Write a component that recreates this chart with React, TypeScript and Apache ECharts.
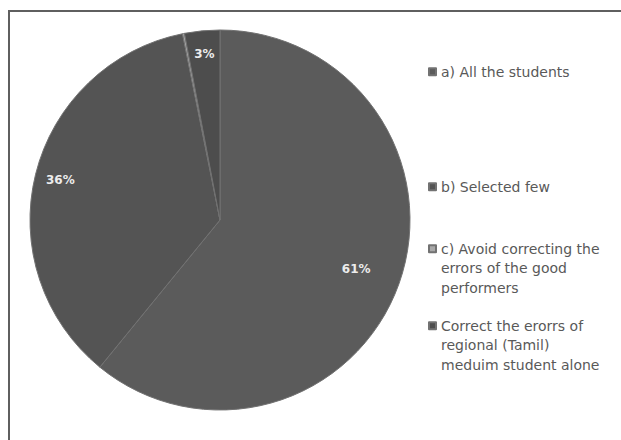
import React, { useEffect, useRef } from 'react';
import * as echarts from 'echarts';

const categories = [
  'a) All the students',
  'b) Selected few',
  'c) Avoid correcting the errors of the good performers',
  'Correct the erorrs of regional (Tamil) meduim student alone',
];
const values = [61, 36, 0, 3];
const legendLines = [
  ['a) All the students'],
  ['b) Selected few'],
  ['c) Avoid correcting the', 'errors of the good', 'performers'],
  ['Correct the erorrs of', 'regional (Tamil)', 'meduim student alone'],
];
const sliceColors = ['#5b5b5b', '#545454', '#a8a8a8', '#4d4d4d'];
const legendTops = [62, 177, 238, 315];
// radial position (fraction of radius) of each slice's percentage label
const labelRadial = [0.745, 0.85, 0, 0.86];

const CX = 220;
const CY = 220;
const R = 190;
const LINE_H = 19.5;

export default function App() {
  const ref = useRef<HTMLDivElement>(null);
  useEffect(() => {
    if (!ref.current) return;
    const chart = echarts.init(ref.current, null, { renderer: 'svg' });
    const data = categories.map((name, i) => ({
      name,
      value: values[i],
      itemStyle: { color: sliceColors[i] },
    }));

    const labelSeries = labelRadial
      .map((frac, idx) => ({ frac, idx }))
      .filter((d) => d.frac > 0)
      .map(({ frac, idx }) => {
        const mid = frac * R;
        return {
          type: 'pie',
          silent: true,
          center: [CX, CY],
          radius: [2 * mid - R, R],
          startAngle: 90,
          minAngle: 0.6,
          data: categories.map((name, i) => ({
            name,
            value: values[i],
            itemStyle: { color: 'rgba(0,0,0,0)', borderWidth: 0 },
            label: { show: i === idx },
          })),
          label: {
            show: true,
            position: 'inside',
            formatter: (p: any) => p.value + '%',
            color: '#ececec',
            fontFamily: 'DejaVu Sans',
            fontWeight: 'bold',
            fontSize: 12,
          },
          labelLine: { show: false },
          emphasis: { disabled: true },
          z: 5,
        };
      });

    const legends = categories.map((name, i) => {
      const lines = legendLines[i];
      const h = lines.length * LINE_H;
      const multi = lines.length > 1;
      const sq = 7;
      const y0 = LINE_H / 2 - sq / 2;
      return {
        data: [name],
        orient: 'vertical',
        left: 423,
        top: legendTops[i] - 5,
        itemGap: 0,
        itemWidth: sq,
        itemHeight: multi ? h : sq,
        icon: multi
          ? `path://M0,0M0,${h}M0,${y0}L${sq},${y0}L${sq},${y0 + sq}L0,${y0 + sq}Z`
          : 'rect',
        formatter: () => lines.join('\n'),
        selectedMode: false,
        textStyle: {
          color: '#595959',
          fontFamily: 'DejaVu Sans',
          fontSize: 14,
          lineHeight: LINE_H,
        },
      };
    });

    chart.setOption({
      animation: false,
      backgroundColor: '#ffffff',
      legend: legends,
      graphic: [
        {
          type: 'rect',
          shape: { x: 9, y: 11, width: 800, height: 600 },
          style: { fill: 'none', stroke: '#5f5f5f', lineWidth: 2 },
          silent: true,
        },
      ],
      series: [
        {
          type: 'pie',
          center: [CX, CY],
          radius: R,
          startAngle: 90,
          minAngle: 0.6,
          data,
          label: { show: false },
          labelLine: { show: false },
          itemStyle: { borderColor: '#727272', borderWidth: 1 },
          emphasis: { disabled: true },
        },
        ...labelSeries,
      ],
    });
    return () => chart.dispose();
  }, []);
  return (
    <div
      ref={ref}
      style={{ position: 'fixed', left: 0, top: 0, width: 621, height: 440 }}
    />
  );
}
